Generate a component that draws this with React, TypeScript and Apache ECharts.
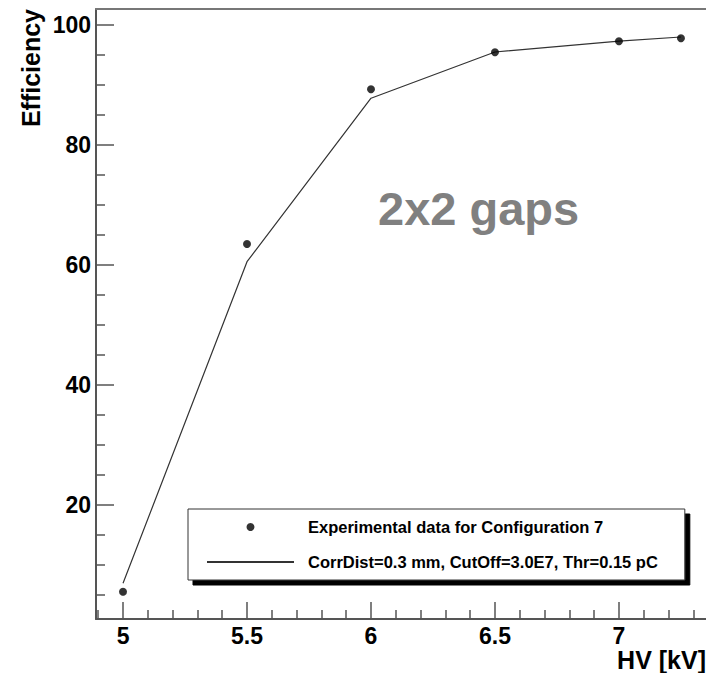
import React, { useEffect, useRef } from "react";
import * as echarts from "echarts";

const hv = [5, 5.5, 6, 6.5, 7, 7.25];
const experimental = [5.55, 63.5, 89.3, 95.45, 97.3, 97.8];
const simulation = [6.95, 60.55, 87.8, 95.5, 97.3, 98.0];

const xMajorTicks = [5, 5.5, 6, 6.5, 7];
const xMinorTicks = [4.9, 5.1, 5.2, 5.3, 5.4, 5.6, 5.7, 5.8, 5.9, 6.1, 6.2, 6.3, 6.4, 6.6, 6.7, 6.8, 6.9, 7.1, 7.2, 7.3];
const yMajorTicks = [20, 40, 60, 80, 100];
const yMinorTicks = [5, 10, 15, 25, 30, 35, 45, 50, 55, 65, 70, 75, 85, 90, 95];

const X_MIN = 4.891;
const X_MAX = 7.351;
const Y_MIN = 1;
const Y_MAX = 102.67;

const expName = "Experimental data for Configuration 7";
const simName = "CorrDist=0.3 mm, CutOff=3.0E7, Thr=0.15 pC";

const FONT = "'Liberation Sans', Arial, Helvetica, sans-serif";
const AXIS_COLOR = "#555";

export default function App() {
  const ref = useRef<HTMLDivElement>(null);
  useEffect(() => {
    if (!ref.current) return;
    const chart = echarts.init(ref.current, null, { renderer: "svg" });
    const hidden = { show: false };
    const option: any = {
      animation: false,
      backgroundColor: "#fff",
      grid: { left: 96, right: 0, top: 9, bottom: 54, containLabel: false, outerBoundsMode: "none" },
      xAxis: [
        {
          type: "value", min: X_MIN, max: X_MAX, position: "bottom",
          axisLine: { show: true, lineStyle: { color: AXIS_COLOR, width: 2 } },
          axisTick: { show: true, inside: true, length: 17, customValues: xMajorTicks, lineStyle: { color: AXIS_COLOR, width: 1.5 } },
          axisLabel: { show: true, customValues: xMajorTicks, margin: 7, fontSize: 23, lineHeight: 20, fontWeight: "bold", color: "#000", fontFamily: FONT },
          splitLine: hidden,
        },
        {
          type: "value", min: X_MIN, max: X_MAX, position: "bottom",
          axisLine: hidden,
          axisTick: { show: true, inside: true, length: 9, customValues: xMinorTicks, lineStyle: { color: AXIS_COLOR, width: 1.5 } },
          axisLabel: hidden, splitLine: hidden,
        },
        {
          type: "value", min: X_MIN, max: X_MAX, position: "top",
          axisLine: { show: true, lineStyle: { color: "#777", width: 2 } },
          axisTick: hidden, axisLabel: hidden, splitLine: hidden,
        },
      ],
      yAxis: [
        {
          type: "value", min: Y_MIN, max: Y_MAX, position: "left",
          axisLine: { show: true, lineStyle: { color: AXIS_COLOR, width: 2 } },
          axisTick: { show: true, inside: true, length: 18, customValues: yMajorTicks, lineStyle: { color: AXIS_COLOR, width: 1.5 } },
          axisLabel: { show: true, customValues: yMajorTicks, margin: 5, fontSize: 23, fontWeight: "bold", color: "#000", fontFamily: FONT },
          splitLine: hidden,
        },
        {
          type: "value", min: Y_MIN, max: Y_MAX, position: "left",
          axisLine: hidden,
          axisTick: { show: true, inside: true, length: 9, customValues: yMinorTicks, lineStyle: { color: AXIS_COLOR, width: 1.5 } },
          axisLabel: hidden, splitLine: hidden,
        },
      ],
      legend: {
        orient: "vertical",
        left: 188,
        top: 509,
        padding: [9, 27, 9, 18],
        itemWidth: 87,
        itemHeight: 8,
        itemGap: 17,
        backgroundColor: "#fff",
        borderColor: "#333",
        borderWidth: 1,
        borderRadius: 0,
        shadowColor: "#000",
        shadowBlur: 0,
        shadowOffsetX: 5,
        shadowOffsetY: 5,
        textStyle: { fontSize: 16.5, fontWeight: "bold", color: "#000", fontFamily: FONT, padding: [0, 0, 0, 9], lineHeight: 18 },
        data: [
          expName,
          { name: simName, itemStyle: { color: "rgba(0,0,0,0)", opacity: 0, borderWidth: 0 } },
        ],
      },
      series: [
        {
          name: expName,
          type: "scatter",
          xAxisIndex: 0, yAxisIndex: 0,
          symbol: "circle",
          symbolSize: 8,
          symbolKeepAspect: true,
          itemStyle: { color: "#000" },
          data: hv.map((x, i) => [x, experimental[i]]),
          z: 5,
        },
        {
          name: simName,
          type: "line",
          xAxisIndex: 0, yAxisIndex: 0,
          symbol: "none",
          showSymbol: false,
          lineStyle: { color: "#333", width: 1.2 },
          itemStyle: { color: "#333" },
          data: hv.map((x, i) => [x, simulation[i]]),
          z: 4,
        },
      ],
      graphic: [
        {
          type: "text",
          x: 31, y: 9,
          rotation: Math.PI / 2,
          style: { text: "Efficiency", font: `bold 25px ${FONT}`, fill: "#000", align: "right", verticalAlign: "middle" },
        },
        {
          type: "text",
          right: 0, top: 647,
          style: { text: "HV [kV]", font: `bold 25px ${FONT}`, lineHeight: 24, fill: "#000" },
        },
        {
          type: "text",
          left: 378, top: 185,
          style: { text: "2x2 gaps", font: `bold 47px ${FONT}`, fill: "#808080" },
        },
      ],
    };
    chart.setOption(option);
    return () => chart.dispose();
  }, []);
  return <div ref={ref} style={{ position: "absolute", left: 0, top: 0, width: 706, height: 673 }} />;
}
